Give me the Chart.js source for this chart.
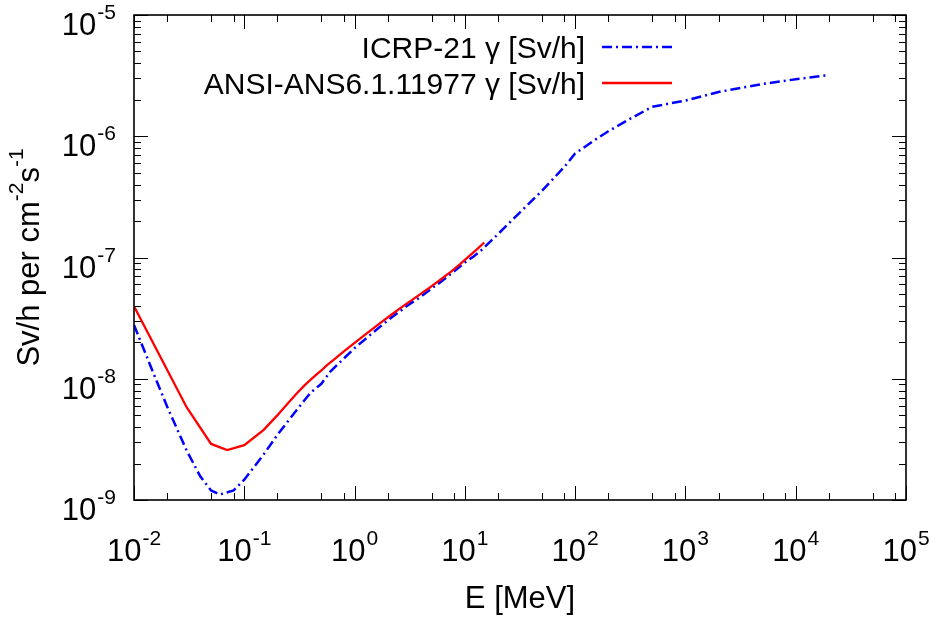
<!DOCTYPE html>
<html>
<head>
<meta charset="utf-8">
<script src="https://cdn.jsdelivr.net/npm/chart.js@4/dist/chart.umd.min.js"></script>
<style>
  html, body { margin: 0; padding: 0; background: #ffffff; }
  #wrap { width: 936px; height: 619px; }
</style>
</head>
<body>
<div id="wrap"><canvas id="c" width="936" height="619"></canvas></div>
<script>
// ---- data ----
const energyICRP = [0.01, 0.015, 0.02, 0.03, 0.04, 0.05, 0.06, 0.08, 0.1, 0.15, 0.2, 0.3, 0.4, 0.5, 0.6, 0.8, 1, 1.5, 2, 3, 4, 5, 6, 8, 10, 12, 14, 20, 30, 50, 80, 100, 150, 200, 300, 500, 1000, 2000, 5000, 10000, 20000];
const doseICRP = [2.78e-8, 1.11e-8, 5.88e-9, 2.56e-9, 1.56e-9, 1.20e-9, 1.11e-9, 1.20e-9, 1.47e-9, 2.38e-9, 3.45e-9, 5.56e-9, 7.69e-9, 9.09e-9, 1.14e-8, 1.47e-8, 1.79e-8, 2.44e-8, 3.03e-8, 4.00e-8, 4.76e-8, 5.56e-8, 6.25e-8, 7.69e-8, 9.09e-8, 1.02e-7, 1.14e-7, 1.56e-7, 2.25e-7, 3.55e-7, 5.6e-7, 7.2e-7, 9.3e-7, 1.1e-6, 1.36e-6, 1.75e-6, 1.97e-6, 2.32e-6, 2.7e-6, 2.95e-6, 3.2e-6];

const energyANSI = [0.01, 0.03, 0.05, 0.07, 0.1, 0.15, 0.2, 0.25, 0.3, 0.35, 0.4, 0.45, 0.5, 0.55, 0.6, 0.65, 0.7, 0.8, 1.0, 1.4, 1.8, 2.2, 2.6, 2.8, 3.25, 3.75, 4.25, 4.75, 5.0, 5.25, 5.75, 6.25, 6.75, 7.5, 9.0, 11, 13, 15];
const doseANSI = [3.96e-8, 5.82e-9, 2.90e-9, 2.58e-9, 2.83e-9, 3.79e-9, 5.01e-9, 6.31e-9, 7.59e-9, 8.78e-9, 9.85e-9, 1.08e-8, 1.17e-8, 1.27e-8, 1.36e-8, 1.44e-8, 1.52e-8, 1.68e-8, 1.98e-8, 2.51e-8, 2.99e-8, 3.42e-8, 3.82e-8, 4.01e-8, 4.41e-8, 4.83e-8, 5.23e-8, 5.60e-8, 5.80e-8, 6.01e-8, 6.37e-8, 6.74e-8, 7.11e-8, 7.66e-8, 8.77e-8, 1.03e-7, 1.18e-7, 1.33e-7];

const seriesLabels = ["ICRP-21 \u03b3 [Sv/h]", "ANSI-ANS6.1.11977 \u03b3 [Sv/h]"];
const xTickExponents = [-2, -1, 0, 1, 2, 3, 4, 5];
const yTickExponents = [-9, -8, -7, -6, -5];
const xMinorMultipliers = [2, 5, 8];
const yMinorMultipliers = [2, 3, 4, 5, 6, 7, 8, 9];
const xTitle = "E [MeV]";
const yTitleParts = [["Sv/h per cm", false], ["-2", true], ["s", false], ["-1", true]];

// ---- styles ----
const FONT = "'Liberation Sans', Arial, Helvetica, sans-serif";
const MAIN_PX = 31, SUP_PX = 21, LEGEND_PX = 30, TITLE_PX = 31, SUP_RAISE = 16;

function pts(xs, ys) { return xs.map((x, i) => ({ x: x, y: ys[i] })); }

const framePlugin = {
  id: 'gnuplotFrame',
  afterDatasetsDraw(chart) {
    const ctx = chart.ctx;
    const a = chart.chartArea;
    const xs = chart.scales.x, ys = chart.scales.y;
    ctx.save();
    ctx.strokeStyle = '#000';
    ctx.lineWidth = 1;
    const MAJ = 14, MIN = 7;
    xTickExponents.forEach((e, i) => {
      const v = Math.pow(10, e);
      const px = Math.round(xs.getPixelForValue(v)) + 0.5;
      ctx.beginPath();
      ctx.moveTo(px, a.bottom); ctx.lineTo(px, a.bottom - MAJ);
      ctx.moveTo(px, a.top); ctx.lineTo(px, a.top + MAJ);
      ctx.stroke();
      if (i < xTickExponents.length - 1) {
        xMinorMultipliers.forEach(m => {
          const p = Math.round(xs.getPixelForValue(m * v)) + 0.5;
          ctx.beginPath();
          ctx.moveTo(p, a.bottom); ctx.lineTo(p, a.bottom - MIN);
          ctx.moveTo(p, a.top); ctx.lineTo(p, a.top + MIN);
          ctx.stroke();
        });
      }
    });
    yTickExponents.forEach((e, i) => {
      const v = Math.pow(10, e);
      const py = Math.round(ys.getPixelForValue(v)) + 0.5;
      ctx.beginPath();
      ctx.moveTo(a.left, py); ctx.lineTo(a.left + MAJ, py);
      ctx.moveTo(a.right, py); ctx.lineTo(a.right - MAJ, py);
      ctx.stroke();
      if (i < yTickExponents.length - 1) {
        yMinorMultipliers.forEach(m => {
          const p = Math.round(ys.getPixelForValue(m * v)) + 0.5;
          ctx.beginPath();
          ctx.moveTo(a.left, p); ctx.lineTo(a.left + MIN, p);
          ctx.moveTo(a.right, p); ctx.lineTo(a.right - MIN, p);
          ctx.stroke();
        });
      }
    });
    ctx.lineWidth = 1.6;
    ctx.strokeRect(a.left, a.top, a.right - a.left, a.bottom - a.top);

    ctx.fillStyle = '#000';
    ctx.textBaseline = 'alphabetic';
    ctx.textAlign = 'left';
    const mainFont = MAIN_PX + 'px ' + FONT, supFont = SUP_PX + 'px ' + FONT;
    function labelWidth(sup) {
      ctx.font = mainFont; const w1 = ctx.measureText('10').width;
      ctx.font = supFont; const w2 = ctx.measureText(sup).width;
      return [w1, w2];
    }
    function drawPow(x0, base, sup) {
      const [w1] = labelWidth(sup);
      ctx.font = mainFont; ctx.fillText('10', x0, base);
      ctx.font = supFont; ctx.fillText(sup, x0 + w1 + 1, base - SUP_RAISE);
    }
    xTickExponents.forEach(e => {
      const sup = String(e);
      const [w1, w2] = labelWidth(sup);
      const px = xs.getPixelForValue(Math.pow(10, e));
      drawPow(px - (w1 + w2 + 1) / 2, 561, sup);
    });
    yTickExponents.forEach(e => {
      const sup = String(e);
      const [w1, w2] = labelWidth(sup);
      const py = ys.getPixelForValue(Math.pow(10, e));
      drawPow(a.left - 18 - (w1 + w2 + 1), py + 20, sup);
    });
    ctx.font = TITLE_PX + 'px ' + FONT;
    ctx.textAlign = 'center';
    ctx.fillText(xTitle, (a.left + a.right) / 2, 608);
    ctx.save();
    ctx.translate(39, (a.top + a.bottom) / 2);
    ctx.rotate(-Math.PI / 2);
    ctx.textAlign = 'left';
    let total = 0;
    const widths = yTitleParts.map(([t, s]) => {
      ctx.font = (s ? SUP_PX : TITLE_PX) + 'px ' + FONT;
      const w = ctx.measureText(t).width; total += w; return w;
    });
    let cx = -total / 2;
    yTitleParts.forEach(([t, s], i) => {
      ctx.font = (s ? SUP_PX : TITLE_PX) + 'px ' + FONT;
      ctx.fillText(t, cx, s ? -SUP_RAISE : 0);
      cx += widths[i];
    });
    ctx.restore();
    ctx.font = LEGEND_PX + 'px ' + FONT;
    ctx.textAlign = 'right';
    const rowsY = [47, 83];
    chart.data.datasets.forEach((ds, i) => {
      const y = rowsY[i];
      ctx.fillStyle = '#000';
      ctx.fillText(ds.label, 585, y + 11);
      ctx.save();
      ctx.strokeStyle = ds.borderColor;
      ctx.lineWidth = ds.borderWidth;
      ctx.setLineDash(ds.borderDash || []);
      ctx.beginPath();
      ctx.moveTo(602, y); ctx.lineTo(672, y);
      ctx.stroke();
      ctx.restore();
    });
    ctx.restore();
  }
};

new Chart(document.getElementById('c'), {
  type: 'line',
  data: {
    datasets: [
      { label: seriesLabels[0], data: pts(energyICRP, doseICRP), borderColor: '#0000ff', borderWidth: 2.5, borderDash: [10, 4, 2, 4], pointRadius: 0, tension: 0, fill: false, order: 1 },
      { label: seriesLabels[1], data: pts(energyANSI, doseANSI), borderColor: '#ff0000', borderWidth: 2.3, pointRadius: 0, tension: 0, fill: false, order: 0 }
    ]
  },
  options: {
    responsive: false,
    animation: false,
    layout: { padding: { left: 134, right: 30, top: 15, bottom: 119 } },
    plugins: { legend: { display: false }, tooltip: { enabled: false } },
    scales: {
      x: { type: 'logarithmic', min: 0.01, max: 1e5, display: false },
      y: { type: 'logarithmic', min: 1e-9, max: 1e-5, display: false }
    }
  },
  plugins: [framePlugin]
});
</script>
</body>
</html>
